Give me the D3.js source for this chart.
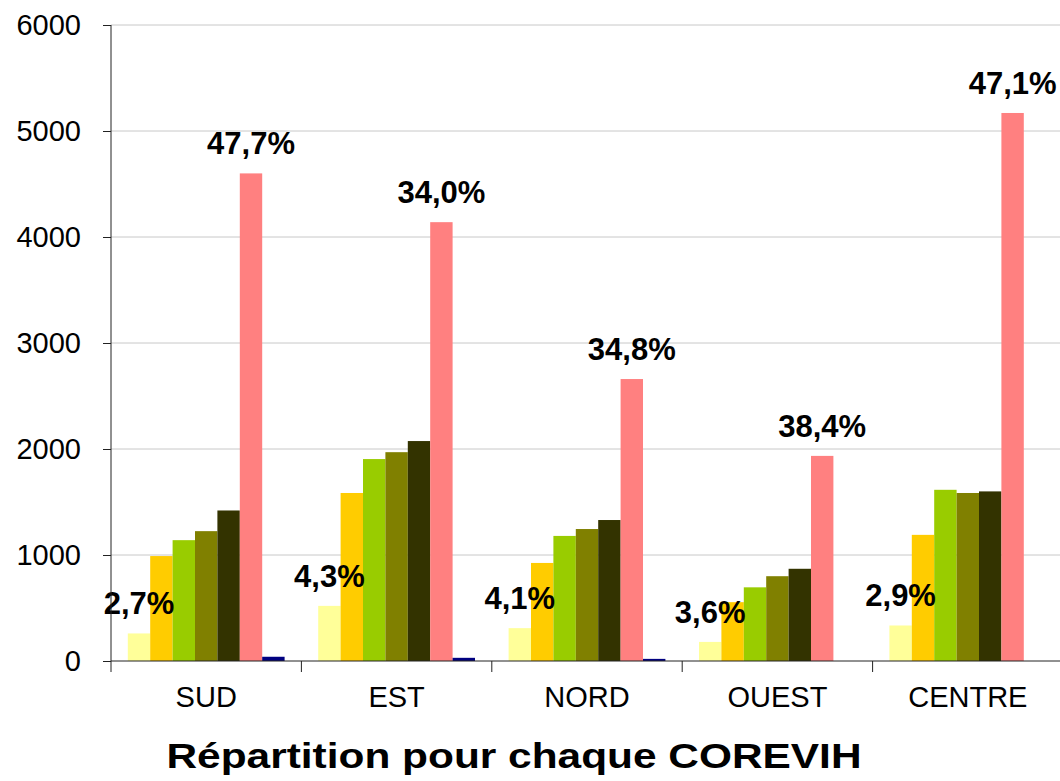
<!DOCTYPE html>
<html>
<head>
<meta charset="utf-8">
<script src="https://cdn.jsdelivr.net/npm/d3@7"></script>
<style>
  body { margin: 0; background: #fff; }
  text { font-family: Arial, "Liberation Sans", sans-serif; }
</style>
</head>
<body>
<div id="chart"></div>
<script>
// Données
const categories = ["SUD", "EST", "NORD", "OUEST", "CENTRE"];
const series = ["s1", "s2", "s3", "s4", "s5", "s6", "s7"];
const colors = ["#FFFF99", "#FFCC00", "#99CC00", "#808000", "#333300", "#FF8080", "#000080"];
const values = [
    [260, 990, 1140, 1225, 1420, 4600, 40],   // SUD
    [520, 1585, 1905, 1970, 2075, 4140, 30],  // EST
    [310, 925, 1180, 1245, 1330, 2660, 20],   // NORD
    [180, 555, 695, 800, 870, 1935, 0],       // OUEST
    [335, 1190, 1615, 1585, 1600, 5170, 0]    // CENTRE
];
const labelsFirst = ["2,7%", "4,3%", "4,1%", "3,6%", "2,9%"];
const labelsPink = ["47,7%", "34,0%", "34,8%", "38,4%", "47,1%"];
const yTicks = [0, 1000, 2000, 3000, 4000, 5000, 6000];

const W = 1060, H = 781;
const margin = { top: 25, right: -3, bottom: 120, left: 111 };
const width = W - margin.left - margin.right;
const height = H - margin.top - margin.bottom;

const svg = d3.select("#chart").append("svg")
    .attr("width", W).attr("height", H)
    .append("g")
    .attr("transform", `translate(${margin.left},${margin.top})`);

const x0 = d3.scaleBand().domain(categories).range([0, width]).padding(0);
const x1 = d3.scaleBand().domain(series).range([0, x0.bandwidth()])
    .paddingInner(0).paddingOuter(0.75);
const y = d3.scaleLinear().domain([0, 6000]).range([height, 0]);

// Grille
svg.append("g")
    .selectAll("line")
    .data(yTicks.filter(d => d > 0))
    .enter().append("line")
    .attr("x1", 0).attr("x2", width)
    .attr("y1", d => y(d)).attr("y2", d => y(d))
    .attr("stroke", "#c8c8c8").attr("stroke-width", 1);

// Barres
const groups = svg.selectAll(".grp")
    .data(categories)
    .enter().append("g")
    .attr("transform", d => `translate(${x0(d)},0)`);

groups.selectAll("rect")
    .data((c, i) => series.map((s, j) => ({ s: s, v: values[i][j], c: colors[j] })))
    .enter().append("rect")
    .attr("x", d => x1(d.s))
    .attr("y", d => y(d.v))
    .attr("width", x1.bandwidth())
    .attr("height", d => height - y(d.v))
    .attr("fill", d => d.c);

// Étiquettes
groups.append("text")
    .attr("x", x1("s1") + x1.bandwidth() / 2)
    .attr("y", (c, i) => y(values[i][0]) - 19)
    .attr("text-anchor", "middle")
    .style("font-size", "31px").style("font-weight", "bold")
    .text((c, i) => labelsFirst[i]);

groups.append("text")
    .attr("x", x1("s6") + x1.bandwidth() / 2)
    .attr("y", (c, i) => y(values[i][5]) - 19)
    .attr("text-anchor", "middle")
    .style("font-size", "31px").style("font-weight", "bold")
    .text((c, i) => labelsPink[i]);

// Axe Y
const yAxis = svg.append("g")
    .call(d3.axisLeft(y).tickValues(yTicks).tickSize(8).tickPadding(22).tickFormat(d3.format("d")));
yAxis.select(".domain").attr("stroke", "#222").attr("d", `M0,0V${height + 11}`);
yAxis.selectAll(".tick line").attr("stroke", "#222");
yAxis.selectAll("text").style("font-size", "29px").attr("fill", "#000")
    .style("font-family", "Arial, 'Liberation Sans', sans-serif");

// Axe X
const xAxis = svg.append("g")
    .attr("transform", `translate(0,${height})`)
    .call(d3.axisBottom(x0).tickSize(0).tickPadding(25));
xAxis.select(".domain").attr("stroke", "#222").attr("d", `M0,0H${width}`);
xAxis.selectAll("text").style("font-size", "29px").attr("fill", "#000")
    .style("font-family", "Arial, 'Liberation Sans', sans-serif");

// Séparateurs de catégories
svg.append("g")
    .selectAll("line")
    .data(categories.slice(1))
    .enter().append("line")
    .attr("x1", d => x0(d)).attr("x2", d => x0(d))
    .attr("y1", height).attr("y2", height + 11)
    .attr("stroke", "#222");

// Titre
svg.append("text")
    .attr("x", 403)
    .attr("y", height + 107)
    .attr("text-anchor", "middle")
    .attr("textLength", 695)
    .attr("lengthAdjust", "spacingAndGlyphs")
    .style("font-size", "35px").style("font-weight", "bold")
    .text("Répartition pour chaque COREVIH");
</script>
</body>
</html>
